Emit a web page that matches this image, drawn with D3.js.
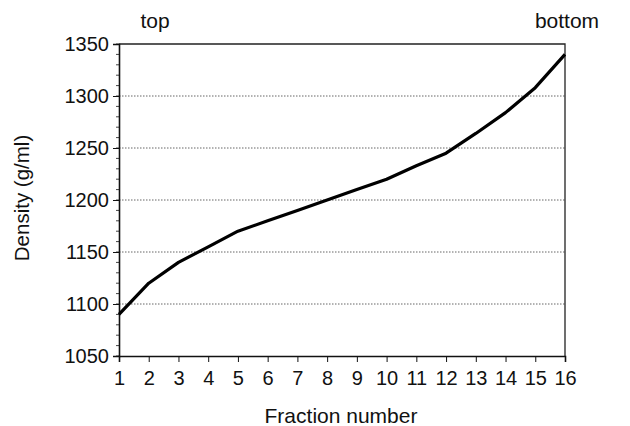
<!DOCTYPE html>
<html>
<head>
<meta charset="utf-8">
<script src="https://cdn.jsdelivr.net/npm/d3@7"></script>
<style>
  body { margin: 0; background: #fff; }
  text { font-family: "Liberation Sans", Arial, sans-serif; fill: #111; }
</style>
</head>
<body>
<div id="chart"></div>
<script>
// data
var fractions = [1, 2, 3, 4, 5, 6, 7, 8, 9, 10, 11, 12, 13, 14, 15, 16];
var density = [1090, 1120, 1140, 1155, 1170, 1180, 1190, 1200, 1210, 1220, 1233, 1245, 1264, 1284, 1308, 1340];
var yTicks = [1050, 1100, 1150, 1200, 1250, 1300, 1350];

var svgWidth = 630;
var svgHeight = 426;
var margin = { top: 44, right: 65, bottom: 70, left: 119 };
var chartWidth = svgWidth - margin.left - margin.right;
var chartHeight = svgHeight - margin.top - margin.bottom;

var svg = d3.select('#chart')
  .append('svg')
  .attr('width', svgWidth)
  .attr('height', svgHeight);

var chartGroup = svg.append('g')
  .attr('transform', `translate(${margin.left}, ${margin.top})`);

var x = d3.scaleLinear().domain([1, 16]).range([0, chartWidth]);
var y = d3.scaleLinear().domain([1050, 1350]).range([chartHeight, 0]);

// dotted grid lines
chartGroup.selectAll('.grid')
  .data(yTicks.slice(1, -1))
  .enter()
  .append('line')
  .attr('x1', 0)
  .attr('x2', chartWidth)
  .attr('y1', d => y(d))
  .attr('y2', d => y(d))
  .attr('stroke', '#666')
  .attr('stroke-width', 1)
  .attr('stroke-dasharray', '1.5,1.5');

// frame (top and right)
chartGroup.append('path')
  .attr('d', `M0,0H${chartWidth}V${chartHeight}`)
  .attr('fill', 'none')
  .attr('stroke', '#222')
  .attr('stroke-width', 1.3);

// minor y ticks
var minor = d3.range(1050, 1351, 10);
chartGroup.selectAll('.minor')
  .data(minor)
  .enter()
  .append('line')
  .attr('x1', -3)
  .attr('x2', 0)
  .attr('y1', d => y(d))
  .attr('y2', d => y(d))
  .attr('stroke', '#444')
  .attr('stroke-width', 1);

// y axis
var leftAxis = d3.axisLeft(y).tickValues(yTicks).tickSize(6).tickPadding(4).tickFormat(d3.format('d'));
var yAxis = chartGroup.append('g').call(leftAxis);
yAxis.select('.domain').attr('stroke', '#111').attr('stroke-width', 1.6);
yAxis.selectAll('line').attr('stroke', '#111');
yAxis.selectAll('text')
  .attr('font-size', 20)
  .attr('font-family', '"Liberation Sans", Arial, sans-serif')
  .attr('fill', '#111');

// x axis
var bottomAxis = d3.axisBottom(x).tickValues(fractions).tickSize(6).tickPadding(9).tickFormat(d3.format('d'));
var xAxis = chartGroup.append('g')
  .attr('transform', `translate(0, ${chartHeight})`)
  .call(bottomAxis);
xAxis.select('.domain').attr('stroke', '#111').attr('stroke-width', 1.6);
xAxis.selectAll('line').attr('stroke', '#111');
xAxis.selectAll('text')
  .attr('font-size', 20)
  .attr('font-family', '"Liberation Sans", Arial, sans-serif')
  .attr('fill', '#111');

// the line
var line = d3.line()
  .x((d, i) => x(fractions[i]))
  .y(d => y(d));

chartGroup.append('path')
  .datum(density)
  .attr('d', line)
  .attr('fill', 'none')
  .attr('stroke', '#000')
  .attr('stroke-width', 3.2)
  .attr('stroke-linejoin', 'round');

// labels
svg.append('text')
  .attr('x', 155)
  .attr('y', 28)
  .attr('text-anchor', 'middle')
  .attr('font-size', 21)
  .text('top');

svg.append('text')
  .attr('x', 567)
  .attr('y', 28)
  .attr('text-anchor', 'middle')
  .attr('font-size', 21)
  .text('bottom');

svg.append('text')
  .attr('x', 341)
  .attr('y', 423)
  .attr('text-anchor', 'middle')
  .attr('font-size', 21)
  .text('Fraction number');

svg.append('text')
  .attr('transform', 'translate(29, 198) rotate(-90)')
  .attr('text-anchor', 'middle')
  .attr('font-size', 20.5)
  .text('Density (g/ml)');
</script>
</body>
</html>
